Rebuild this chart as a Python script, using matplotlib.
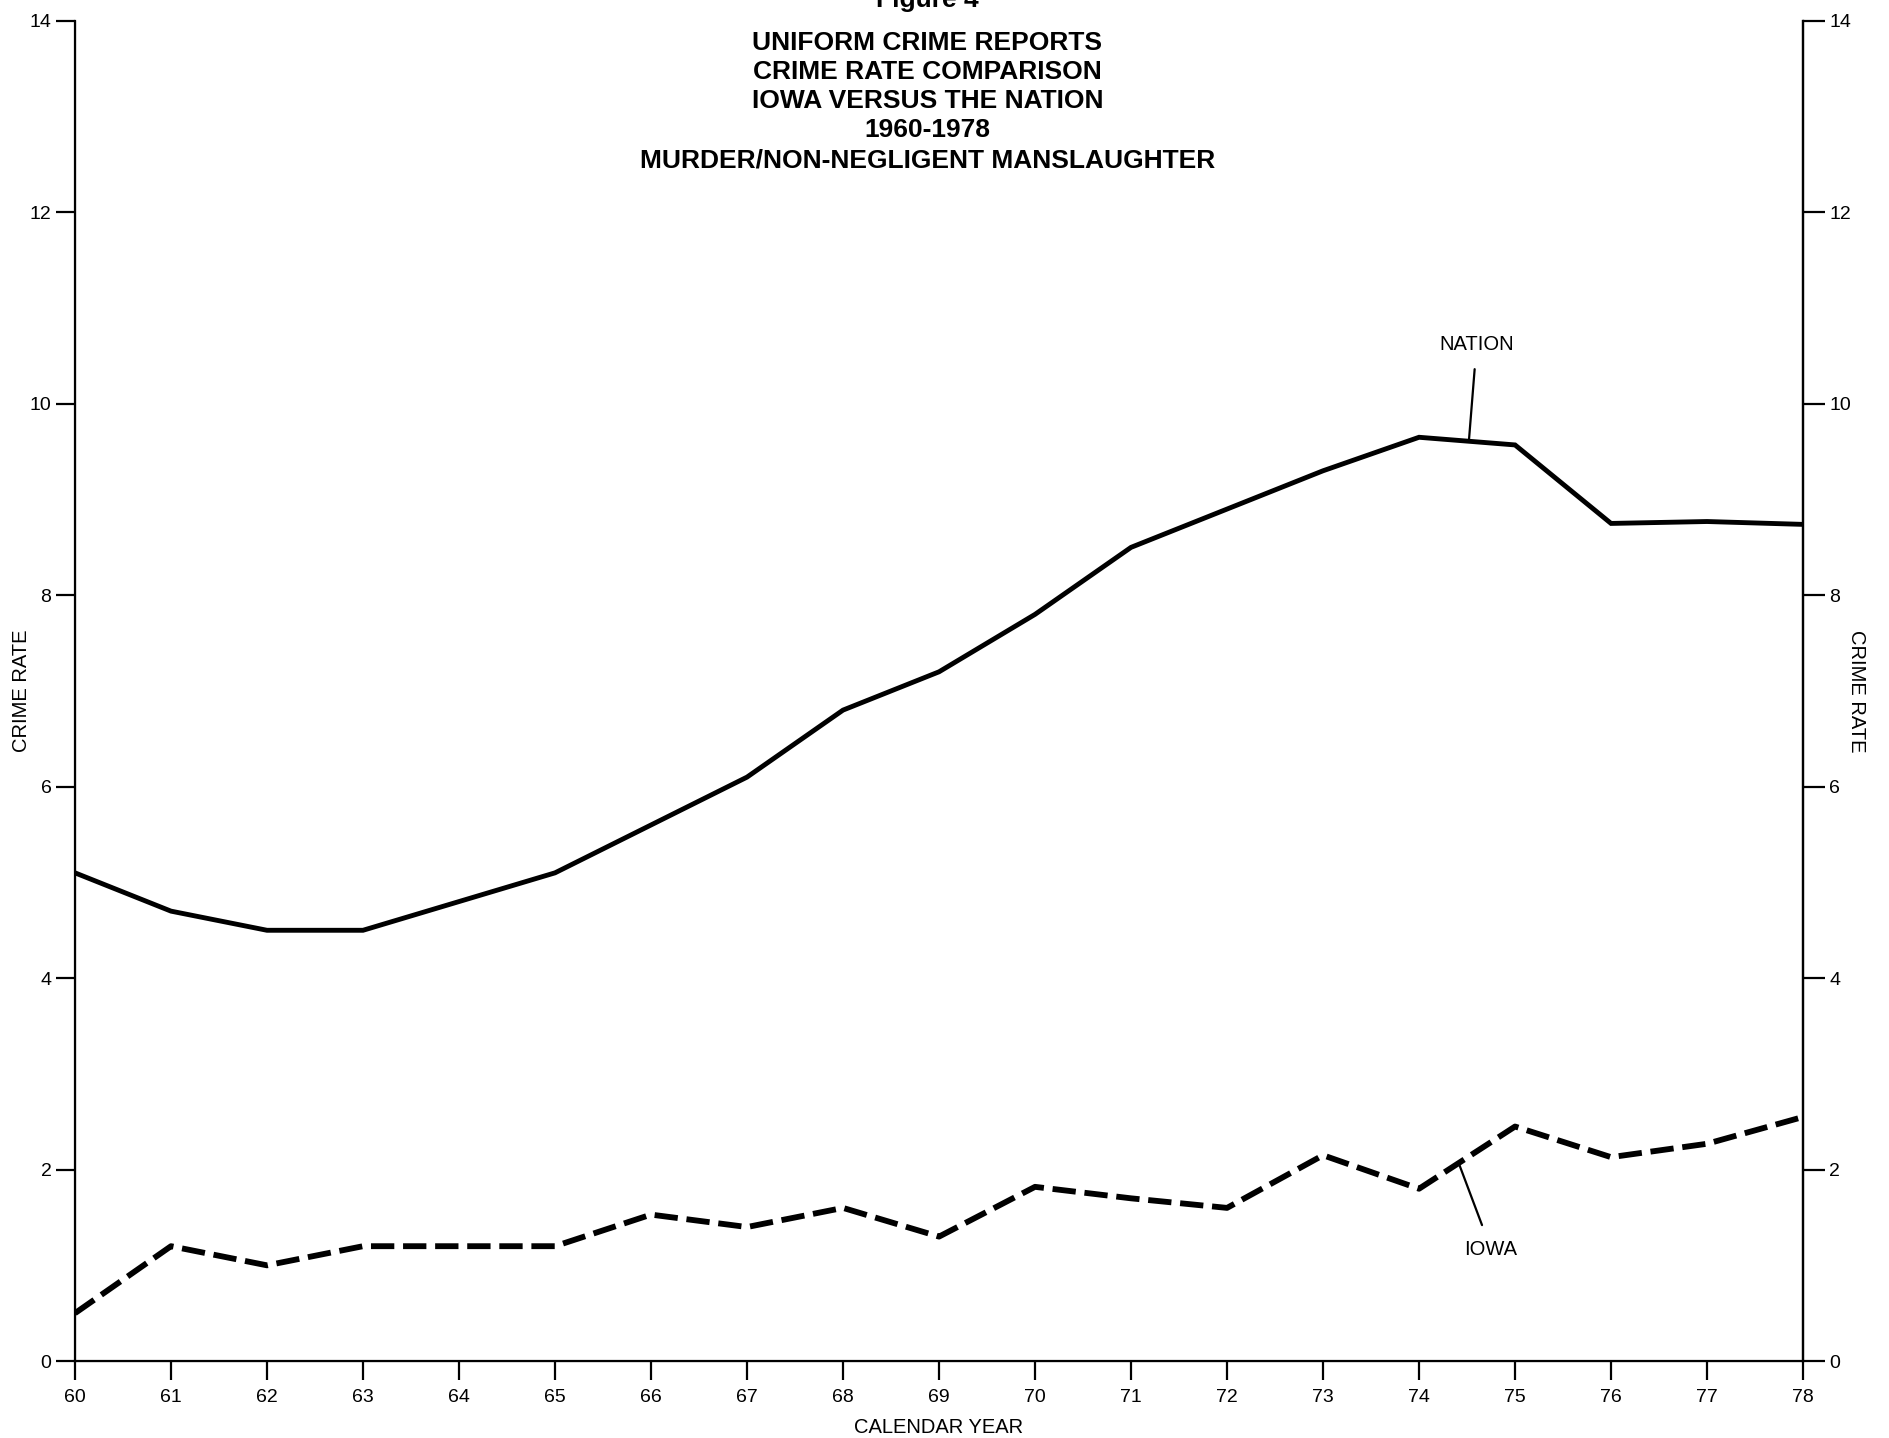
import matplotlib
matplotlib.use("Agg")
import matplotlib.pyplot as plt

plt.rcParams["font.family"] = ["Liberation Sans", "DejaVu Sans"]

# data
years = list(range(60, 79))
nation = [5.1, 4.7, 4.5, 4.5, 4.8, 5.1, 5.6, 6.1, 6.8, 7.2, 7.8, 8.5, 8.9, 9.3, 9.65, 9.57, 8.75, 8.77, 8.74]
iowa = [0.5, 1.2, 1.0, 1.2, 1.2, 1.2, 1.53, 1.4, 1.6, 1.3, 1.82, 1.7, 1.6, 2.15, 1.8, 2.45, 2.13, 2.27, 2.55]
yticks = [0, 2, 4, 6, 8, 10, 12, 14]
title_lines = ["UNIFORM CRIME REPORTS", "CRIME RATE COMPARISON",
               "IOWA VERSUS THE NATION", "1960-1978",
               "MURDER/NON-NEGLIGENT MANSLAUGHTER"]

fig = plt.figure(figsize=(18.89, 14.38), dpi=100)
ax = fig.add_axes([0.0397, 0.0535, 0.9148, 0.932])

ax.plot(years, nation, color="black", lw=3.5, solid_joinstyle="miter")
ax.plot(years, iowa, color="black", lw=4.2, dashes=(4.0, 1.5), dash_capstyle="butt")

ax.set_xlim(60, 78)
ax.set_ylim(0, 14)
ax.set_xticks(years)
ax.set_xticklabels([str(y) for y in years])
ax.set_yticks(yticks)

ax.spines["top"].set_visible(False)
for s in ("left", "right", "bottom"):
    ax.spines[s].set_linewidth(1.6)
ax.tick_params(axis="both", direction="out", length=14, width=1.6, pad=3, labelsize=14)
ax.tick_params(axis="x", length=14, pad=6)

ax2 = ax.twinx()
ax2.set_ylim(0, 14)
ax2.set_yticks(yticks)
ax2.spines["top"].set_visible(False)
ax2.spines["right"].set_linewidth(1.6)
ax2.tick_params(axis="y", direction="out", length=16, width=1.6, pad=3, labelsize=14)

ax.set_ylabel("CRIME RATE", fontsize=14.5, va="center")
ax.yaxis.set_label_coords(-0.031, 0.5)
ax2.set_ylabel("CRIME RATE", fontsize=14.5, rotation=-90, va="center")
ax2.yaxis.set_label_coords(1.031, 0.5)
ax.set_xlabel("CALENDAR YEAR", fontsize=14.5, labelpad=9)

# labels with leader lines
ax.annotate("NATION", xy=(74.52, 9.62), xytext=(74.6, 10.62), ha="center", va="center",
            fontsize=14.5, arrowprops=dict(arrowstyle="-", lw=1.6, color="black", shrinkA=9, shrinkB=0))
ax.annotate("IOWA", xy=(74.42, 2.05), xytext=(74.75, 1.17), ha="center", va="center",
            fontsize=14.5, arrowprops=dict(arrowstyle="-", lw=1.6, color="black", shrinkA=9, shrinkB=0))

# title block
fig.text(0.491, 1.0, "Figure 4", ha="center", va="center", fontsize=19, fontweight="bold")
tops = [43, 72, 101, 130, 160]
for line, yp in zip(title_lines, tops):
    fig.text(0.491, 1 - yp / 1438, line, ha="center", va="center", fontsize=19, fontweight="bold")

fig.savefig("out.png", dpi=100, facecolor="white")
